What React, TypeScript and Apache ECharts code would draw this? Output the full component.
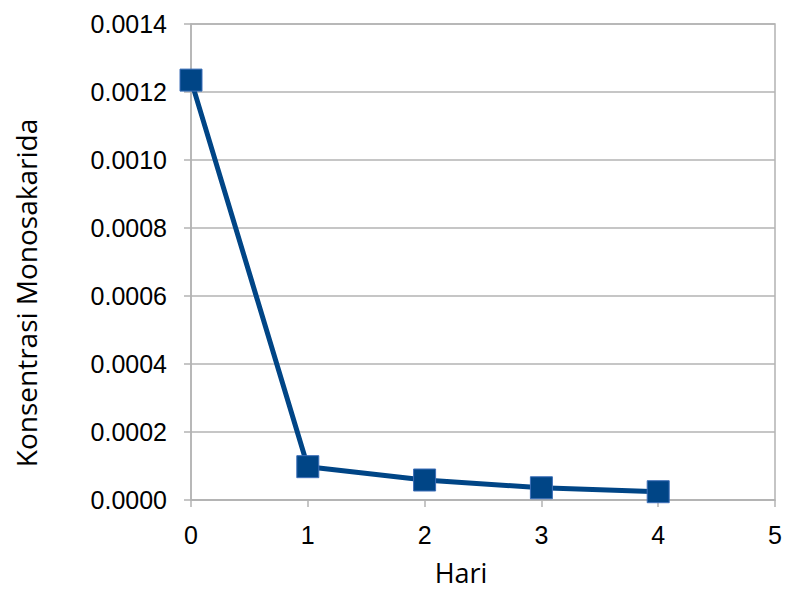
import React, { useEffect, useRef } from "react";
import * as echarts from "echarts";

const days = [0, 1, 2, 3, 4];
const konsentrasi = [0.001235, 0.000098, 0.0000588, 0.000036, 0.0000244];
const xTitle = "Hari";
const yTitle = "Konsentrasi Monosakarida";

export default function App() {
  const ref = useRef<HTMLDivElement>(null);
  useEffect(() => {
    if (!ref.current) return;
    const chart = echarts.init(ref.current, null, { renderer: "svg" });
    const gray = "#b3b3b3";
    chart.setOption({
      animation: false,
      backgroundColor: "#ffffff",
      grid: {
        left: 191,
        right: 12,
        top: 24,
        bottom: 91,
        show: true,
        borderColor: gray,
        borderWidth: 1.5,
      },
      xAxis: {
        type: "value",
        min: 0,
        max: 5,
        interval: 1,
        axisLine: { show: true, lineStyle: { color: gray, width: 1.5 } },
        axisTick: { show: true, length: 7, lineStyle: { color: gray, width: 1.5 } },
        splitLine: { show: false },
        axisLabel: {
          color: "#000",
          fontSize: 25,
          fontFamily: "Liberation Sans",
          margin: 22,
        },
      },
      yAxis: {
        type: "value",
        min: 0,
        max: 0.0014,
        interval: 0.0002,
        axisLine: { show: true, lineStyle: { color: gray, width: 1.5 } },
        axisTick: { show: true, length: 7, lineStyle: { color: gray, width: 1.5 } },
        splitLine: { show: true, lineStyle: { color: gray, width: 1.5 } },
        axisLabel: {
          color: "#000",
          fontSize: 25,
          fontFamily: "Liberation Sans",
          margin: 24,
          formatter: (v: number) => v.toFixed(4),
        },
      },
      graphic: [
        {
          type: "text",
          x: 461,
          y: 572,
          style: {
            text: xTitle,
            fill: "#000",
            fontSize: 27,
            fontFamily: "Open Sans",
            align: "center",
            verticalAlign: "middle",
          },
        },
        {
          type: "text",
          x: 26,
          y: 293,
          rotation: Math.PI / 2,
          style: {
            text: yTitle,
            fill: "#000",
            fontSize: 28,
            fontFamily: "Open Sans",
            align: "center",
            verticalAlign: "middle",
          },
        },
      ],
      series: [
        {
          type: "line",
          data: days.map((d, i) => [d, konsentrasi[i]]),
          symbol: "rect",
          symbolSize: 22,
          lineStyle: { color: "#004586", width: 5 },
          itemStyle: { color: "#004586", borderColor: "#3d6fb8", borderWidth: 1 },
        },
      ],
    });
    return () => chart.dispose();
  }, []);
  return <div ref={ref} style={{ width: 787, height: 591, position: "absolute", left: 0, top: 0 }} />;
}
